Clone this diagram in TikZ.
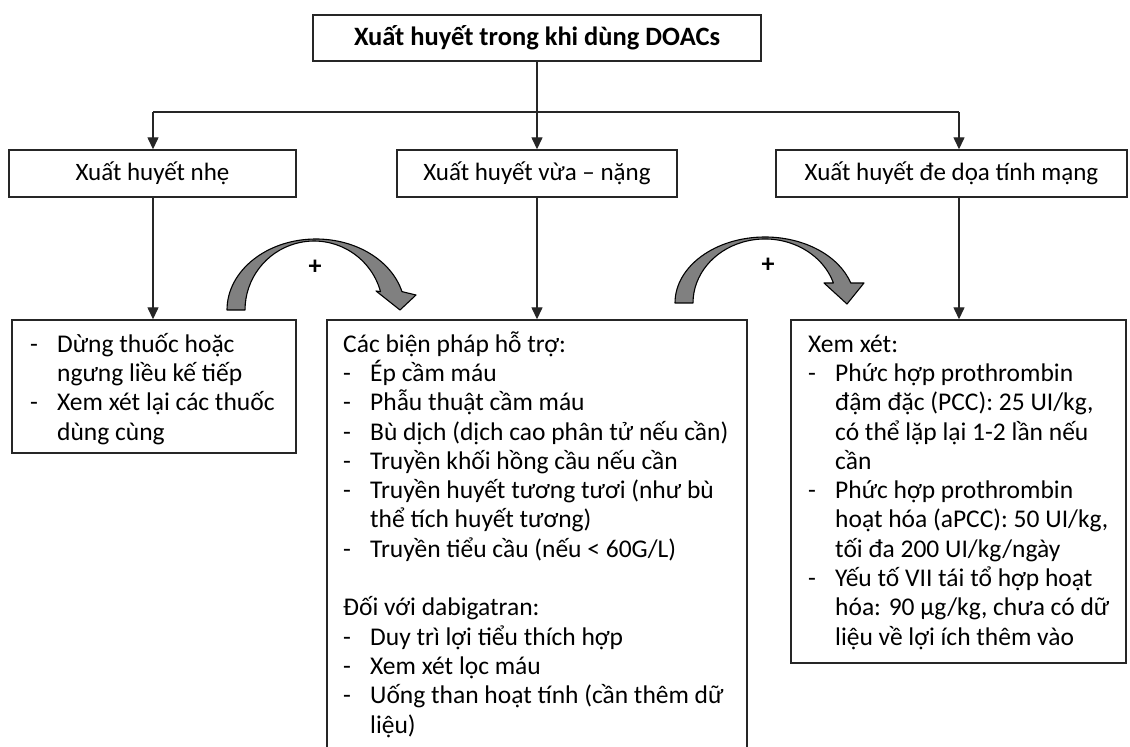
\documentclass[tikz,border=0pt]{standalone}
\usepackage{fontspec}
\setmainfont{Carlito}
\usetikzlibrary{arrows.meta}

% list helpers: a dash with a hanging indent, and the indent alone
\newcommand\itm{\makebox[27pt][l]{-}}
\newcommand\ind{\hspace*{27pt}}
\newcommand\tstrut{\rule{0pt}{24pt}}
% body text: fixed line pitch regardless of accents
\newcommand\bodyfont{\fontsize{25.5}{29.3}\selectfont\lineskiplimit-100pt\relax}

\begin{document}
\begin{tikzpicture}[x=1pt,y=1pt,
  box/.style={draw=black!85, line width=1.4pt, fill=white, inner sep=0pt, rectangle},
  arr/.style={line width=1.4pt, draw=black!85, -{Triangle[length=12pt,width=11pt]}},
  body/.style={font=\bodyfont, align=left, inner sep=0pt, anchor=north west},
  head/.style={font=\fontsize{25}{29}\selectfont},
  curvearrow/.style={fill=black!50, draw=black, line width=1.1pt, line join=round},
  plus/.style={font=\fontsize{26}{26}\selectfont\bfseries, inner sep=0pt}]
\useasboundingbox (0,0) rectangle (1130,747);
\clip (0,0) rectangle (1130,747);

% top level
\node[box, minimum width=448pt, minimum height=46pt,
      font=\fontsize{26.5}{30}\selectfont\bfseries] (title) at (537,709)
      {Xuất huyết trong khi dùng DOACs};

% second level
\node[box, head, minimum width=287pt, minimum height=47pt] (mild) at (152.5,573.5) {Xuất huyết nhẹ};
\node[box, head, minimum width=280pt, minimum height=47pt] (moderate) at (537,573.5) {Xuất huyết vừa – nặng};
\node[box, head, minimum width=351pt, minimum height=47pt] (severe) at (951.5,573.5) {Xuất huyết đe dọa tính mạng};

% third level boxes
\node[box, minimum width=284pt, minimum height=133pt] (mildbox) at (154,360.5) {};
\node[box, minimum width=420pt, minimum height=460pt] (modbox) at (537,197) {};
\node[box, minimum width=335pt, minimum height=343pt] (sevbox) at (958.5,255.5) {};

% connectors
\coordinate (barL) at (153,635);
\coordinate (barR) at (959,635);
\draw[arr] (title.south) -- (moderate.north);
\draw[line width=1.4pt, draw=black!85] (barL) -- (barR);
\draw[arr] (barL) -- (barL |- mild.north);
\draw[arr] (barR) -- (barR |- severe.north);
\draw[arr] (mild.south -| barL) -- (mildbox.north -| barL);
\draw[arr] (moderate.south) -- (modbox.north);
\draw[arr] (severe.south -| barR) -- (sevbox.north -| barR);

% box texts
\node[body] (mildtext) at (30,419) {%
\tstrut\itm Dừng thuốc hoặc\\
\ind ngưng liều kế tiếp\\
\itm Xem xét lại các thuốc\\
\ind dùng cùng};

\node[body] (modtext) at (343,419) {%
\tstrut Các biện pháp hỗ trợ:\\
\itm Ép cầm máu\\
\itm Phẫu thuật cầm máu\\
\itm Bù dịch (dịch cao phân tử nếu cần)\\
\itm Truyền khối hồng cầu nếu cần\\
\itm Truyền huyết tương tươi (như bù\\
\ind thể tích huyết tương)\\
\itm Truyền tiểu cầu (nếu < 60G/L)\\
\mbox{}\\
Đối với dabigatran:\\
\itm Duy trì lợi tiểu thích hợp\\
\itm Xem xét lọc máu\\
\itm Uống than hoạt tính (cần thêm dữ\\
\ind liệu)};

\node[body] (sevtext) at (808,419) {%
\tstrut Xem xét:\\
\itm Phức hợp prothrombin\\
\ind đậm đặc (PCC): 25 UI/kg,\\
\ind có thể lặp lại 1-2 lần nếu\\
\ind cần\\
\itm Phức hợp prothrombin\\
\ind hoạt hóa (aPCC): 50 UI/kg,\\
\ind tối đa 200 UI/kg/ngày\\
\itm Yếu tố VII tái tổ hợp hoạt\\
\ind hóa: 90 µg/kg, chưa có dữ\\
\ind liệu về lợi ích thêm vào};

% curved "add-on" arrows
\draw[curvearrow] (227,437)
  arc[start angle=180, end angle=15, x radius=89pt, y radius=71pt]
  -- (416,452) -- (400,437) -- (376,456) -- (380.5,455.4)
  arc[start angle=15.5, end angle=180, x radius=69pt, y radius=69pt]
  -- cycle;
\draw[curvearrow] (675,444)
  arc[start angle=180, end angle=17.6, x radius=90pt, y radius=66pt]
  -- (864,464) -- (847,443) -- (824,464) -- (833.4,464)
  arc[start angle=18.2, end angle=180, x radius=72pt, y radius=64pt]
  -- cycle;
\node[plus] (plusL) at (315,480) {+};
\node[plus] (plusR) at (768,482) {+};
\end{tikzpicture}
\end{document}
